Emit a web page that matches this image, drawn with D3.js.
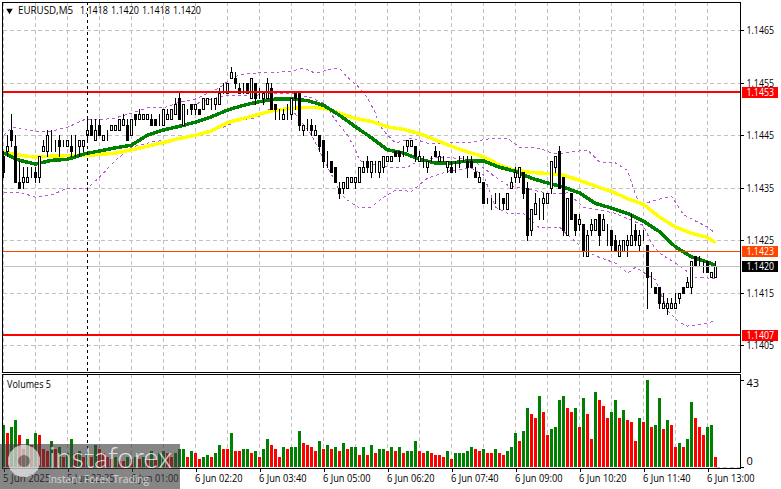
<!DOCTYPE html>
<html lang="en">
<head>
    <meta charset="UTF-8">
    <title>EURUSD,M5</title>
    <style>
        html, body { margin: 0; padding: 0; background: #fff; }
        svg { display: block; }
        text { font-family: "Open Sans", "Noto Sans", sans-serif; font-size: 11px; fill: #000; }
    </style>
</head>
<body>
<div id="chart"></div>
<script src="https://cdnjs.cloudflare.com/ajax/libs/d3/7.8.5/d3.min.js"></script>
<script>
    // candles, in pips above 1.1400, bar 0 is the oldest
    const opens = [41,42,46,43,36,36,36,38,38,37, 42,42,44,43,44,44,43,43,43,43,
        43,45,47,44,47,44,45,46,46,46, 47,47,45,49,48,48,48,48,48,48,
        47,48,48,49,52,47,49,51,50,50, 50,51,51,51,51,54,53,56,56,54,
        54,55,52,55,53,52,52,54,51,50, 48,50,49,53,53,46,46,47,45,45,
        44,40,40,39,35,35,35,36,36,36, 38,40,38,39,38,39,40,40,42,42,
        42,43,43,43,40,40,39,41,42,40, 41,39,39,39,40,41,40,40,38,36,
        36,33,33,33,32,33,31,35,37,37, 38,35,27,30,31,32,32,35,39,42,
        37,26,34,30,28,28,22,27,27,30, 27,28,27,25,22,23,24,24,27,24,
        26,24,19,16,16,12,12,12,12,14, 16,16,16,22,21,21,21,18,18];
    const highs = [42,45,49,45,40,39,39,39,39,41, 44,46,46,44,45,44,44,45,45,44,
        44,48,48,48,48,45,46,47,47,48, 49,48,48,49,50,49,49,49,48,49,
        50,50,50,52,53,51,50,51,51,50, 52,52,52,52,54,55,55,58,57,55,
        55,55,56,55,54,53,56,55,51,50, 50,51,52,53,53,47,48,48,47,45,
        44,42,40,39,36,36,37,37,37,39, 40,41,40,40,40,41,41,41,42,42,
        43,44,44,43,42,41,40,41,43,42, 41,40,40,40,41,41,41,41,39,38,
        36,33,33,34,34,33,34,37,39,39, 38,36,31,34,33,34,34,40,41,43,
        37,33,34,30,30,28,27,29,29,30, 30,28,27,26,25,25,26,30,28,27,
        27,24,19,16,16,15,14,14,15,15, 16,18,21,22,22,21,21,19,21];
    const lows = [37,41,43,36,35,35,36,37,36,36, 42,41,42,42,41,43,43,41,41,41,
        42,44,45,44,45,44,44,46,46,46, 47,44,45,47,48,48,48,47,47,47,
        47,48,48,49,48,47,49,49,49,49, 50,51,50,50,51,53,53,56,54,53,
        53,53,52,51,52,51,52,50,48,48, 48,48,48,50,46,45,46,45,45,42,
        39,39,38,36,33,34,35,36,35,36, 38,38,37,38,37,38,40,40,41,40,
        41,42,43,40,40,39,38,40,41,40, 40,38,38,38,39,40,37,39,37,36,
        32,32,31,32,31,31,31,35,36,36, 33,25,26,30,29,29,32,34,38,35,
        26,26,29,26,27,22,22,26,27,24, 27,24,23,23,22,23,22,24,24,23,
        25,12,16,15,12,12,11,12,12,13, 15,16,15,20,20,19,19,18,18];
    const closes = [38,43,44,36,35,37,37,38,37,41, 43,45,44,43,43,44,44,42,43,44,
        44,46,45,46,45,45,45,47,47,48, 48,44,48,48,49,49,49,47,47,48,
        50,49,50,51,48,51,49,50,51,49, 52,52,51,52,53,54,55,57,55,53,
        54,53,56,52,53,53,55,50,50,50, 49,50,52,52,47,47,46,46,46,43,
        40,40,38,36,34,36,37,37,37,39, 39,39,40,39,40,41,41,41,41,41,
        42,44,44,41,41,40,40,41,41,41, 41,40,38,39,40,41,39,39,37,37,
        32,33,33,33,32,32,34,36,38,39, 34,26,31,32,31,33,34,40,41,35,
        27,33,29,27,29,23,26,28,29,26, 29,28,24,23,24,25,25,26,25,26,
        26,18,19,15,13,13,13,13,13,15, 15,17,21,20,21,21,19,19,20];
    const volumes = [21,17,20,23,16,9,14,11,17,16, 9,8,13,9,10,5,7,14,7,8,
        5,6,5,11,9,7,5,4,5,3, 3,5,4,5,4,5,4,8,4,7,
        8,7,5,7,9,9,5,8,7,4, 5,6,5,7,11,9,9,17,8,8,
        9,9,7,8,5,9,14,11,9,5, 10,9,10,10,18,12,11,10,8,13,
        9,11,9,10,8,12,9,10,10,6, 10,6,11,7,9,9,8,10,8,10,
        7,8,8,13,8,7,8,7,6,6, 5,8,4,7,7,7,8,10,9,8,
        9,7,7,9,7,6,8,10,17,13, 18,29,26,24,35,27,16,19,20,33,
        35,29,27,29,20,34,26,14,37,33, 30,24,27,33,24,28,23,22,13,24,
        22,43,20,21,34,19,23,21,10,12, 10,14,32,24,20,16,20,21,5];

    // moving averages, read every 4 bars
    const maBars = [0,4,8,12,16,20,24,28,32,36,40,44,48,52,56,60,64,68,72,76,80,84,88,92,96,100,104,108,112,116,
        120,124,128,132,136,140,144,148,152,156,160,164,168,172,176,178];
    const maGreen = [1.14416,1.14402,1.14395,1.14402,1.14404,1.14414,1.14420,1.14426,1.14431,1.14450,1.14460,1.14467,1.14475,1.14485,1.14498,
        1.14507,1.14514,1.14519,1.14519,1.14516,1.14507,1.14488,1.14466,1.14445,1.14422,1.14416,1.14404,1.14397,1.14397,1.14401,
        1.14401,1.14389,1.14381,1.14368,1.14359,1.14351,1.14340,1.14320,1.14311,1.14301,1.14286,1.14266,1.14237,1.14218,1.14208,1.14202];
    const maYellow = [1.14418,1.14412,1.14408,1.14410,1.14411,1.14412,1.14413,1.14416,1.14422,1.14429,1.14436,1.14444,1.14450,1.14458,1.14474,
        1.14482,1.14490,1.14498,1.14501,1.14503,1.14502,1.14492,1.14482,1.14476,1.14466,1.14461,1.14453,1.14441,1.14429,1.14418,
        1.14409,1.14393,1.14383,1.14379,1.14377,1.14374,1.14364,1.14353,1.14343,1.14329,1.14318,1.14294,1.14275,1.14263,1.14255,1.14245];

    // bollinger lines
    const upperBars = [0,2,3,8,12,16,20,24,28,32,36,40,44,48,54,57,59,61,68,72,75,78,81,84,85,89,91,93,94,96,98,102,106,111,117,122,126,129,134,137,140,146,149,153,156,157,159,163,167,170,176,178];
    const upperBand = [1.14450,1.14464,1.14465,1.14458,1.14458,1.14465,1.14479,1.14479,1.14483,1.14492,1.14502,1.14502,1.14513,1.14519,1.14540,1.14559,1.14565,1.14568,1.14570,1.14572,1.14578,1.14568,1.14574,1.14578,1.14568,1.14540,1.14521,1.14492,1.14469,1.14450,1.14435,1.14444,1.14435,1.14435,1.14437,1.14444,1.14444,1.14427,1.14425,1.14416,1.14416,1.14422,1.14399,1.14397,1.14383,1.14359,1.14317,1.14326,1.14334,1.14298,1.14275,1.14263];
    const midBars = [47,51,56,62,67,72,77,80,83,86,88,89,91,97,101,104,109,114,118,123,126,137,141,145,153,160,162,164,168,173,178];
    const midBand = [1.14507,1.14517,1.14526,1.14525,1.14530,1.14530,1.14521,1.14511,1.14479,1.14450,1.14422,1.14402,1.14397,1.14389,1.14389,1.14402,1.14408,1.14406,1.14399,1.14370,1.14355,1.14338,1.14340,1.14313,1.14301,1.14278,1.14244,1.14225,1.14206,1.14179,1.14177];
    const lowerBars = [0,4,8,12,16,21,24,28,32,37,41,45,49,55,59,63,66,72,77,81,83,84,86,89,92,95,98,102,106,109,112,117,120,123,126,130,134,139,140,146,149,153,156,158,163,166,169,171,176,178];
    const lowerBand = [1.14341,1.14341,1.14332,1.14336,1.14349,1.14349,1.14370,1.14402,1.14427,1.14437,1.14441,1.14446,1.14454,1.14465,1.14479,1.14483,1.14498,1.14500,1.14450,1.14389,1.14361,1.14341,1.14326,1.14311,1.14313,1.14332,1.14345,1.14343,1.14368,1.14376,1.14383,1.14387,1.14374,1.14313,1.14301,1.14301,1.14273,1.14275,1.14267,1.14227,1.14217,1.14206,1.14187,1.14198,1.14174,1.14116,1.14093,1.14086,1.14091,1.14097];

    const priceTicks = [1.1405,1.1415,1.1425,1.1435,1.1445,1.1455,1.1465];
    const timeBars = [0,16,32,48,64,80,96,112,128,144,160,176];
    const timeLabels = ["5 Jun 2025","5 Jun 23:35","6 Jun 01:00","6 Jun 02:20","6 Jun 03:40","6 Jun 05:00","6 Jun 06:20","6 Jun 07:40","6 Jun 09:00","6 Jun 10:20","6 Jun 11:40","6 Jun 13:00"];
    const gridBars = [0,8,16,24,32,40,48,56,64,72,80,88,96,104,112,120,128,136,144,152,160,168,176];
    const volumeTicks = [0,43];
    const headerValues = ["1.1418","1.1420","1.1418","1.1420"];
    const crosshairBar = 21;

    const width = 781, height = 489;
    const margin = {"left": 3, "right": 740, "top": 2, "mainBottom": 372, "volTop": 374, "volBottom": 467};

    let svg = d3.select("#chart")
        .append("svg")
        .attr("width", width)
        .attr("height", height);

    const x = d3.scaleLinear().domain([0, 178]).range([3.5, 715.5]);
    const y = d3.scaleLinear().domain([1.1405, 1.1465]).range([345, 30.3]);
    const yVol = d3.scaleLinear().domain([0, 43]).range([margin.volBottom, 380]);
    const px = v => Math.round(y(v)) + 0.5;
    const price = pips => 1.14 + pips / 10000;
    // the terminal font is narrower than the installed ones, so squeeze to the same width
    const fit = (sel, w) => sel.attr("textLength", w).attr("lengthAdjust", "spacingAndGlyphs");

    let grid = {
        "draw": function() {
            let g = svg.append("g").classed("grid", true)
                .style("stroke", "#c0c0c0")
                .style("stroke-dasharray", "4,3")
                .attr("shape-rendering", "crispEdges");

            g.selectAll("line.h")
                .data(priceTicks)
                .join("line")
                .classed("h", true)
                .attr("x1", margin.left)
                .attr("x2", margin.right)
                .attr("y1", px)
                .attr("y2", px);

            [[margin.top, margin.mainBottom], [margin.volTop, margin.volBottom]].forEach(r => {
                g.append("g").selectAll("line")
                    .data(gridBars)
                    .join("line")
                    .attr("x1", d => x(d))
                    .attr("x2", d => x(d))
                    .attr("y1", r[0])
                    .attr("y2", r[1]);
            });

            g.append("line")
                .attr("x1", x(178))
                .attr("x2", margin.right)
                .attr("y1", margin.volBottom + 0.5)
                .attr("y2", margin.volBottom + 0.5);
        }
    };

    let indicators = {
        "draw": function() {
            let g = svg.append("g").classed("indicators", true)
                .style("fill", "none")
                .attr("shape-rendering", "crispEdges");
            this.line(g, upperBars, upperBand, "#ba55d3", 1, "3,3");
            this.line(g, midBars, midBand, "#ba55d3", 1, "3,3");
            this.line(g, lowerBars, lowerBand, "#ba55d3", 1, "3,3");
            this.line(g, maBars, maYellow, "#ffff00", 3.5, null);
            this.line(g, maBars, maGreen, "#008000", 3.5, null);
        },
        "line": function(g, bars, values, color, w, dash) {
            let line = d3.line()
                .x((d, i) => x(bars[i]))
                .y(d => y(d));
            g.append("path")
                .datum(values)
                .attr("d", line)
                .style("stroke", color)
                .style("stroke-width", w)
                .style("stroke-dasharray", dash);
        }
    };

    let candles = {
        "draw": function() {
            let g = svg.append("g").classed("candles", true)
                .attr("shape-rendering", "crispEdges")
                .style("stroke", "#000");

            g.selectAll("line")
                .data(d3.range(opens.length))
                .join("line")
                .attr("x1", d => x(d))
                .attr("x2", d => x(d))
                .attr("y1", d => px(price(highs[d])) - 0.5)
                .attr("y2", d => px(price(lows[d])) + 0.5);

            g.selectAll("rect")
                .data(d3.range(opens.length))
                .join("rect")
                .attr("x", d => x(d) - 1)
                .attr("width", 2)
                .attr("y", d => px(price(Math.max(opens[d], closes[d]))))
                .attr("height", d => Math.abs(px(price(opens[d])) - px(price(closes[d]))))
                .style("fill", d => closes[d] >= opens[d] ? "#fff" : "#000");
        }
    };

    let volume = {
        "draw": function() {
            // green when the volume rises, red when it falls, a tie keeps the colour
            let up = true;
            let colors = volumes.map((v, i) => {
                if (i > 0 && v !== volumes[i - 1]) up = v > volumes[i - 1];
                return up ? "#008000" : "#ff0000";
            });

            svg.append("g").classed("volume", true)
                .attr("shape-rendering", "crispEdges")
                .selectAll("rect")
                .data(volumes)
                .join("rect")
                .attr("x", (d, i) => x(i) - 1.5)
                .attr("width", 3)
                .attr("y", d => yVol(d))
                .attr("height", d => yVol(0) - yVol(d))
                .style("fill", (d, i) => colors[i]);
        }
    };

    let levels = {
        "tags": [],
        "draw": function() {
            let g = svg.append("g").classed("levels", true).attr("shape-rendering", "crispEdges");
            this.level(g, 1.14533, "#ff0000", 2, "1.1453", "#ff0000");
            this.level(g, 1.1407, "#ff0000", 2, "1.1407", "#ff0000");
            this.level(g, 1.1423, "#ff4500", 1, "1.1423", "#ff4500");
            this.level(g, 1.1420, "#c0c0c0", 1, "1.1420", "#000");

            svg.append("g")
                .selectAll("line")
                .data([[margin.top, margin.mainBottom], [margin.volTop, margin.volBottom]])
                .join("line")
                .attr("x1", x(crosshairBar))
                .attr("x2", x(crosshairBar))
                .attr("y1", d => d[0])
                .attr("y2", d => d[1])
                .attr("shape-rendering", "crispEdges")
                .style("stroke", "#000")
                .style("stroke-dasharray", "3,3");
        },
        "level": function(g, value, color, w, label, tagColor) {
            g.append("line")
                .attr("x1", margin.left)
                .attr("x2", margin.right)
                .attr("y1", w === 1 ? px(value) : y(value))
                .attr("y2", w === 1 ? px(value) : y(value))
                .style("stroke", color)
                .style("stroke-width", w);
            this.tags.push({"value": value, "label": label, "color": tagColor});
        }
    };

    let axis = {
        "draw": function() {
            this.frame();
            this.price();
            this.time();
            this.volume();
            this.tags();
            this.titles();
        },
        "frame": function() {
            let g = svg.append("g").classed("frame", true)
                .attr("shape-rendering", "crispEdges")
                .style("fill", "none")
                .style("stroke", "#000");
            g.append("rect")
                .attr("x", 2.5)
                .attr("y", margin.top + 0.5)
                .attr("width", margin.right - 2)
                .attr("height", margin.mainBottom - margin.top);
            g.append("rect")
                .attr("x", 2.5)
                .attr("y", margin.volTop + 0.5)
                .attr("width", margin.right - 2)
                .attr("height", margin.volBottom - margin.volTop + 1);
        },
        "price": function() {
            let g = svg.append("g")
                .classed("yaxis", true)
                .attr("transform", `translate(${margin.right + 0.5},0)`)
                .call(d3.axisRight(y).tickValues(priceTicks).tickFormat(d3.format(".4f")).tickSize(3).tickPadding(3));
            g.select(".domain").remove();
            fit(g.selectAll("text").style("font-family", null).style("font-size", "11px"), 27.5);
            g.selectAll(".tick line").attr("shape-rendering", "crispEdges");
        },
        "time": function() {
            let g = svg.append("g")
                .classed("xaxis", true)
                .attr("transform", `translate(0,${margin.volBottom + 1})`)
                .call(d3.axisBottom(x).tickValues(timeBars).tickFormat((d, i) => timeLabels[i]).tickSize(4).tickPadding(2));
            g.select(".domain").remove();
            fit(g.selectAll("text").style("text-anchor", "start").attr("dx", -1).style("font-family", null).style("font-size", "11px"), 47.5);
            g.selectAll(".tick line").attr("shape-rendering", "crispEdges");
        },
        "volume": function() {
            let g = svg.append("g")
                .classed("yaxisvol", true)
                .attr("transform", `translate(${margin.right + 0.5},0)`)
                .call(d3.axisRight(yVol).tickValues(volumeTicks).tickSize(3).tickPadding(3));
            g.select(".domain").remove();
            g.selectAll("text")
                .style("font-family", null)
                .style("font-size", "11px")
                .attr("dy", d => d === 0 ? "-0.2em" : "0.55em");
            g.selectAll(".tick line").attr("shape-rendering", "crispEdges");
        },
        "tags": function() {
            let g = svg.append("g").classed("tags", true).selectAll("g")
                .data(levels.tags)
                .join("g")
                .attr("transform", d => `translate(742,${Math.round(y(d.value)) + 0.5})`);
            g.append("rect")
                .attr("y", -5.5)
                .attr("width", 36)
                .attr("height", 11)
                .attr("shape-rendering", "crispEdges")
                .style("fill", d => d.color);
            fit(g.append("text")
                .attr("x", 4.5)
                .attr("y", 3.5)
                .style("fill", "#fff")
                .text(d => d.label), 27.5);
        },
        "titles": function() {
            svg.append("path")
                .attr("d", d3.symbol(d3.symbolTriangle, 18)())
                .attr("transform", "translate(9.5,10.5) rotate(180)")
                .style("fill", "#000");
            fit(svg.append("text").attr("x", 18).attr("y", 14).text("EURUSD,M5"), 55);
            fit(svg.selectAll("text.v")
                .data(headerValues)
                .join("text")
                .classed("v", true)
                .attr("x", (d, i) => 80 + i * 31)
                .attr("y", 14)
                .text(d => d), 28);
            fit(svg.append("text").attr("x", 7).attr("y", 388).text("Volumes 5"), 44);
        }
    };

    let watermark = {
        "draw": function() {
            let g = svg.append("g").classed("watermark", true);
            g.append("rect")
                .attr("y", 444)
                .attr("width", 180)
                .attr("height", 45)
                .style("fill", "#3c3c3c")
                .style("opacity", 0.62);

            let gear = g.append("g")
                .attr("transform", "translate(24,461)")
                .style("fill", "#fff")
                .style("opacity", 0.6);
            gear.selectAll("rect")
                .data(d3.range(8))
                .join("rect")
                .attr("x", -3.5)
                .attr("y", -16)
                .attr("width", 7)
                .attr("height", 32)
                .attr("transform", d => `rotate(${d * 45 / 2})`);
            gear.append("circle").attr("r", 6).style("fill", "#8a8a8a");

            fit(g.append("text").attr("x", 49).attr("y", 468)
                .style("font-family", "Lato, sans-serif")
                .style("font-size", "30px")
                .style("font-weight", 300)
                .style("fill", "#fff")
                .style("opacity", 0.75)
                .text("instaforex"), 123);
            fit(g.append("text").attr("x", 48).attr("y", 483)
                .style("font-size", "11.5px")
                .style("fill", "#fff")
                .style("opacity", 0.65)
                .text("Instant Forex Trading"), 101);
        }
    };

    grid.draw();
    indicators.draw();
    volume.draw();
    candles.draw();
    levels.draw();
    axis.draw();
    watermark.draw();
</script>

</body>
</html>
